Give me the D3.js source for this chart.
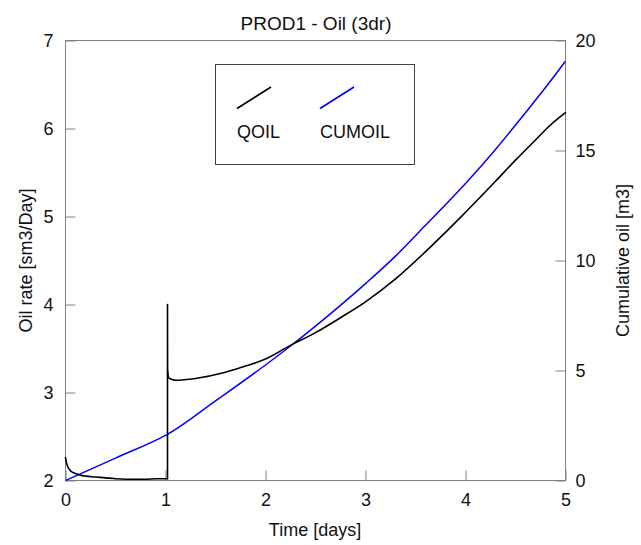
<!DOCTYPE html>
<html>
<head>
<meta charset="utf-8">
<script src="https://cdn.jsdelivr.net/npm/d3@7"></script>
<style>
  html, body { margin: 0; padding: 0; background: #fff; }
  svg { display: block; font-family: "Liberation Sans", Arial, sans-serif; }
</style>
</head>
<body>
<svg id="chart" width="641" height="545"></svg>
<script>
// ---- data ----
const chartTitle = "PROD1 - Oil (3dr)";
const xTicks = [0, 1, 2, 3, 4, 5];
const leftTicks = [2, 3, 4, 5, 6, 7];
const rightTicks = [0, 5, 10, 15, 20];

const qoilTime = [0, 0.01, 0.03, 0.06, 0.1, 0.15, 0.2, 0.3, 0.4, 0.5, 0.6, 0.7, 0.8, 0.9, 1.0, 1.02,
                  1.02, 1.021, 1.03, 1.06, 1.1, 1.3, 1.6, 1.8, 2.0, 2.24, 2.5, 2.75, 3.0, 3.3, 3.6, 3.95, 4.3, 4.5, 4.7, 4.85, 5.0];
const qoilRate = [2.26, 2.2, 2.14, 2.1, 2.08, 2.06, 2.05, 2.04, 2.03, 2.02, 2.015, 2.015, 2.015, 2.02, 2.02, 2.02,
                  4.0, 3.25, 3.17, 3.15, 3.14, 3.16, 3.23, 3.3, 3.38, 3.53, 3.68, 3.85, 4.03, 4.29, 4.6, 4.99, 5.4, 5.64, 5.87, 6.04, 6.18];

const cumTime = [0, 0.5, 1.0, 1.02, 1.5, 2.0, 2.24, 2.5, 3.0, 3.3, 3.6, 4.0, 4.3, 4.6, 4.8, 5.0];
const cumOil  = [0, 1.02, 2.05, 2.1, 3.62, 5.25, 6.08, 7.02, 8.95, 10.2, 11.6, 13.5, 15.05, 16.72, 17.86, 19.06];

const seriesNames = ["QOIL", "CUMOIL"];
const seriesColors = ["#000000", "#0000ff"];

// ---- layout ----
const svg = d3.select("#chart");
const L = 65.5, R = 565.5, T = 40.5, B = 480.5;
const axisColor = "#808080";
const fontSize = 18;

const x = d3.scaleLinear().domain([0, 5]).range([L, R]);
const yL = d3.scaleLinear().domain([2, 7]).range([B, T]);
const yR = d3.scaleLinear().domain([0, 20]).range([B, T]);

// frame
svg.append("rect").attr("x", L).attr("y", T).attr("width", R - L).attr("height", B - T)
  .attr("fill", "none").attr("stroke", axisColor).attr("stroke-width", 1);

function styleAxis(g) {
  g.select(".domain").remove();
  g.selectAll(".tick line").attr("stroke", axisColor);
  g.selectAll(".tick text").attr("fill", "#111").attr("font-size", fontSize)
    .attr("font-family", '"Liberation Sans", Arial, sans-serif');
}

svg.append("g").attr("transform", `translate(0,${B})`)
  .call(d3.axisBottom(x).tickValues(xTicks).tickFormat(d3.format("d")).tickSize(-10).tickPadding(13))
  .call(styleAxis);

svg.append("g").attr("transform", `translate(${L},0)`)
  .call(d3.axisLeft(yL).tickValues(leftTicks).tickFormat(d3.format("d")).tickSize(-10).tickPadding(12))
  .call(styleAxis);

svg.append("g").attr("transform", `translate(${R},0)`)
  .call(d3.axisRight(yR).tickValues(rightTicks).tickFormat(d3.format("d")).tickSize(-10).tickPadding(10))
  .call(styleAxis);

// lines
const qoilData = qoilTime.map((t, i) => [t, qoilRate[i]]);
const cumData = cumTime.map((t, i) => [t, cumOil[i]]);

svg.append("path").datum(cumData)
  .attr("fill", "none").attr("stroke", seriesColors[1]).attr("stroke-width", 1.5)
  .attr("d", d3.line().x(d => x(d[0])).y(d => yR(d[1])).curve(d3.curveMonotoneX));

// QOIL: smooth pieces, with the jump (repeated time value) drawn straight
let k = qoilTime.findIndex((t, i) => i > 0 && t === qoilTime[i - 1]);
const smoothLine = d3.line().x(d => x(d[0])).y(d => yL(d[1])).curve(d3.curveMonotoneX);
const straightLine = d3.line().x(d => x(d[0])).y(d => yL(d[1]));
const qoilPieces = [
  [qoilData.slice(0, k), smoothLine],
  [qoilData.slice(k - 1, k + 2), straightLine],
  [qoilData.slice(k + 1), smoothLine]
];
qoilPieces.forEach(([pts, gen]) => {
  svg.append("path").datum(pts)
    .attr("fill", "none").attr("stroke", seriesColors[0]).attr("stroke-width", 1.6)
    .attr("stroke-linejoin", "round").attr("stroke-linecap", "round")
    .attr("d", gen);
});

// title
svg.append("text").attr("x", 316).attr("y", 29.5).attr("text-anchor", "middle")
  .attr("font-size", 19).attr("fill", "#111").text(chartTitle);

// axis titles
svg.append("text").attr("x", 315).attr("y", 536).attr("text-anchor", "middle")
  .attr("font-size", fontSize).attr("fill", "#111").text("Time [days]");

svg.append("text").attr("transform", `translate(32,${(T + B) / 2}) rotate(-90)`)
  .attr("text-anchor", "middle").attr("font-size", fontSize).attr("fill", "#111")
  .text("Oil rate [sm3/Day]");

svg.append("text").attr("transform", `translate(629,${(T + B) / 2}) rotate(-90)`)
  .attr("text-anchor", "middle").attr("font-size", fontSize).attr("fill", "#111")
  .text("Cumulative oil [m3]");

// legend
const lg = svg.append("g");
lg.append("rect").attr("x", 215.5).attr("y", 64.5).attr("width", 199).attr("height", 100)
  .attr("fill", "#fff").attr("stroke", "#404040").attr("stroke-width", 1);
const legendX = [237, 320];
seriesNames.forEach((name, i) => {
  lg.append("line").attr("x1", legendX[i]).attr("y1", 108.5).attr("x2", legendX[i] + 34).attr("y2", 87)
    .attr("stroke", seriesColors[i]).attr("stroke-width", 1.6);
  lg.append("text").attr("x", legendX[i]).attr("y", 138).attr("font-size", fontSize)
    .attr("fill", "#111").text(name);
});
</script>
</body>
</html>
